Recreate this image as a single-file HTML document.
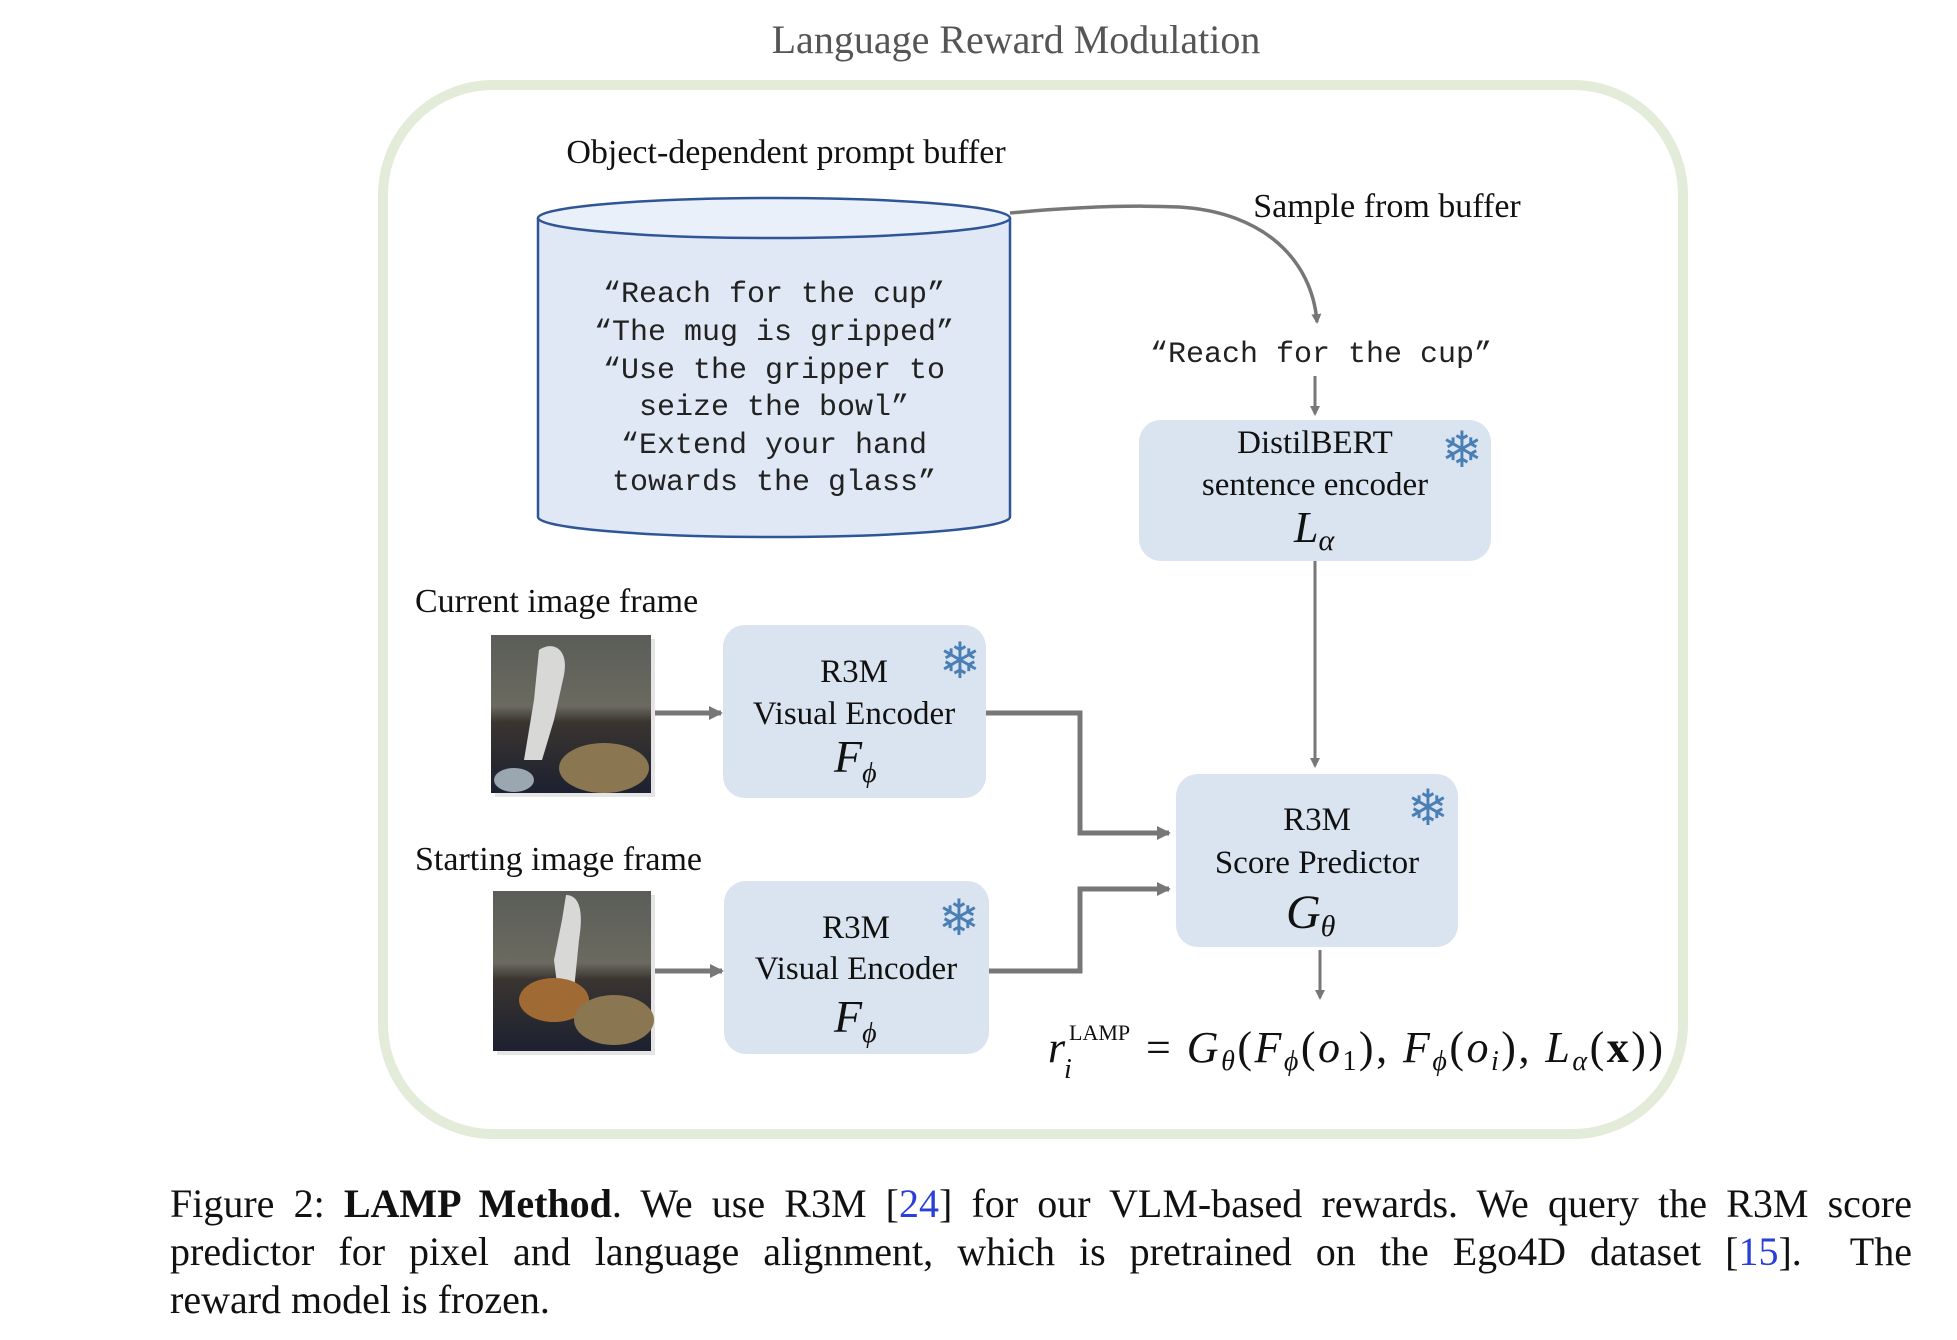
<!DOCTYPE html>
<html><head><meta charset="utf-8"><style>
html,body{margin:0;padding:0;background:#fff;}
#wrap{position:relative;width:1957px;height:1340px;overflow:hidden;}
svg{position:absolute;left:0;top:0;}
.cap{position:absolute;left:170px;width:1742px;font-family:"Liberation Serif",serif;font-size:40px;color:#111;white-space:nowrap;}
.j{text-align:justify;text-align-last:justify;white-space:normal;}
.ref{color:#2a3fd6;}
</style></head><body><div id="wrap">
<svg width="1957" height="1340" viewBox="0 0 1957 1340">
<defs>
<marker id="ah" markerWidth="10" markerHeight="10" refX="8" refY="5" orient="auto" markerUnits="userSpaceOnUse"><path d="M0,0 L10,5 L0,10 z" fill="#777"/></marker>
<marker id="ah2" markerWidth="14" markerHeight="14" refX="12" refY="7" orient="auto" markerUnits="userSpaceOnUse"><path d="M0,0 L14,7 L0,14 z" fill="#777"/></marker>
<linearGradient id="bg1" x1="0" y1="0" x2="0" y2="1"><stop offset="0" stop-color="#5a5d58"/><stop offset="0.45" stop-color="#6b6a60"/><stop offset="0.55" stop-color="#3a3530"/><stop offset="1" stop-color="#1c2030"/></linearGradient>
</defs>
<g transform="translate(-6,0)">
<text x="1022" y="53" text-anchor="middle" font-family="Liberation Serif,serif" font-size="40" fill="#555">Language Reward Modulation</text>
<rect x="389" y="85" width="1300" height="1049" rx="110" fill="#fff" stroke="#e2ecd9" stroke-width="10"/>
<text x="792" y="163" text-anchor="middle" font-family="Liberation Serif,serif" font-size="34" fill="#111">Object-dependent prompt buffer</text>
<path d="M544,218 L544,517 A236,20 0 0 0 1016,517 L1016,218" fill="#dfe8f4" stroke="#2f5597" stroke-width="2.5"/>
<ellipse cx="780" cy="218" rx="236" ry="20" fill="#e9f0f9" stroke="#2f5597" stroke-width="2.5"/>
<g font-family="Liberation Mono,monospace" font-size="30" fill="#222" text-anchor="middle">
<text x="780" y="302">“Reach for the cup”</text>
<text x="780" y="340">“The mug is gripped”</text>
<text x="780" y="378">“Use the gripper to</text>
<text x="780" y="415">seize the bowl”</text>
<text x="780" y="453">“Extend your hand</text>
<text x="780" y="490">towards the glass”</text>
<text x="1327" y="362">“Reach for the cup”</text>
</g>
<path d="M1016,213 C1080,207 1140,205 1185,207 C1270,212 1318,260 1323,322" fill="none" stroke="#777" stroke-width="3.5" marker-end="url(#ah)"/>
<text x="1393" y="217" text-anchor="middle" font-family="Liberation Serif,serif" font-size="34" fill="#111">Sample from buffer</text>
<line x1="1321" y1="376" x2="1321" y2="414" stroke="#777" stroke-width="3" marker-end="url(#ah)"/>
<rect x="1145" y="420" width="352" height="141" rx="22" fill="#dae3f0"/>
<g font-family="Liberation Serif,serif" font-size="33" fill="#111" text-anchor="middle">
<text x="1321" y="453">DistilBERT</text>
<text x="1321" y="495">sentence encoder</text>
</g>
<text x="1300" y="542" font-family="Liberation Serif,serif" font-size="44" font-style="italic" fill="#111">L<tspan font-size="30" dy="8">α</tspan></text>
<line x1="1321" y1="561" x2="1321" y2="766" stroke="#777" stroke-width="3" marker-end="url(#ah)"/>
<rect x="1182" y="774" width="282" height="173" rx="22" fill="#dae3f0"/>
<g font-family="Liberation Serif,serif" font-size="33" fill="#111" text-anchor="middle">
<text x="1323" y="830">R3M</text>
<text x="1323" y="873">Score Predictor</text>
</g>
<text x="1292" y="928" font-family="Liberation Serif,serif" font-size="48" font-style="italic" fill="#111">G<tspan font-size="30" dy="8">θ</tspan></text>
<line x1="1326" y1="950" x2="1326" y2="998" stroke="#777" stroke-width="3" marker-end="url(#ah)"/>
<text x="1054" y="1062" font-family="Liberation Serif,serif" font-size="44" font-style="italic" fill="#111">r</text>
<text x="1075" y="1040" font-family="Liberation Serif,serif" font-size="22" fill="#111">LAMP</text>
<text x="1070" y="1078" font-family="Liberation Serif,serif" font-size="28" font-style="italic" fill="#111">i</text>
<text x="1152" y="1062" textLength="517" lengthAdjust="spacing" font-family="Liberation Serif,serif" font-size="44" font-style="italic" fill="#111"><tspan font-style="normal">= </tspan>G<tspan font-size="28" dy="8">θ</tspan><tspan font-style="normal" dy="-8">(</tspan>F<tspan font-size="28" dy="8">ϕ</tspan><tspan font-style="normal" dy="-8">(</tspan>o<tspan font-size="28" font-style="normal" dy="8">1</tspan><tspan font-style="normal" dy="-8">), </tspan>F<tspan font-size="28" dy="8">ϕ</tspan><tspan font-style="normal" dy="-8">(</tspan>o<tspan font-size="28" dy="8">i</tspan><tspan font-style="normal" dy="-8">), </tspan>L<tspan font-size="28" dy="8">α</tspan><tspan font-style="normal" dy="-8">(</tspan><tspan font-style="normal" font-weight="bold">x</tspan><tspan font-style="normal">))</tspan></text>
<text x="421" y="612" font-family="Liberation Serif,serif" font-size="34" fill="#111">Current image frame</text>
<rect x="501" y="639" width="160" height="158" fill="#ccc" opacity="0.5"/>
<rect x="497" y="635" width="160" height="158" fill="url(#bg1)"/>
<path d="M545,650 C560,640 575,650 570,675 L560,720 L548,760 L530,760 L540,700 Z" fill="#d8d8d6"/>
<ellipse cx="610" cy="768" rx="45" ry="25" fill="#8a7650"/>
<ellipse cx="520" cy="780" rx="20" ry="12" fill="#9aa6b0"/>
<line x1="661" y1="713" x2="727" y2="713" stroke="#777" stroke-width="5" marker-end="url(#ah2)"/>
<rect x="729" y="625" width="263" height="173" rx="22" fill="#dae3f0"/>
<g font-family="Liberation Serif,serif" font-size="33" fill="#111" text-anchor="middle">
<text x="860" y="682">R3M</text>
<text x="860" y="724">Visual Encoder</text>
</g>
<text x="840" y="772" font-family="Liberation Serif,serif" font-size="46" font-style="italic" fill="#111">F<tspan font-size="28" dy="10">ϕ</tspan></text>
<polyline points="992,713 1086,713 1086,833 1175,833" fill="none" stroke="#777" stroke-width="5" marker-end="url(#ah2)"/>
<text x="421" y="870" font-family="Liberation Serif,serif" font-size="34" fill="#111">Starting image frame</text>
<rect x="503" y="895" width="158" height="160" fill="#ccc" opacity="0.5"/>
<rect x="499" y="891" width="158" height="160" fill="url(#bg1)"/>
<path d="M572,895 C585,895 590,910 585,940 L580,990 L565,1000 L560,960 L568,920 Z" fill="#d8d8d6"/>
<ellipse cx="560" cy="1000" rx="35" ry="22" fill="#a06a35"/>
<ellipse cx="620" cy="1020" rx="40" ry="25" fill="#8a7650"/>
<line x1="661" y1="971" x2="728" y2="971" stroke="#777" stroke-width="5" marker-end="url(#ah2)"/>
<rect x="730" y="881" width="265" height="173" rx="22" fill="#dae3f0"/>
<g font-family="Liberation Serif,serif" font-size="33" fill="#111" text-anchor="middle">
<text x="862" y="938">R3M</text>
<text x="862" y="979">Visual Encoder</text>
</g>
<text x="840" y="1032" font-family="Liberation Serif,serif" font-size="46" font-style="italic" fill="#111">F<tspan font-size="28" dy="10">ϕ</tspan></text>
<polyline points="995,971 1086,971 1086,889 1175,889" fill="none" stroke="#777" stroke-width="5" marker-end="url(#ah2)"/>
<g font-family="DejaVu Sans,sans-serif" font-size="50" fill="#4a7fb5" text-anchor="middle">
<text x="1468" y="467">❄</text>
<text x="1434" y="825">❄</text>
<text x="966" y="678">❄</text>
<text x="965" y="935">❄</text>
</g>
</g>
</svg>
<div class="cap j" style="top:1180px;">Figure 2: <b>LAMP Method</b>. We use R3M [<span class="ref">24</span>] for our VLM-based rewards. We query the R3M score</div>
<div class="cap j" style="top:1228px;">predictor for pixel and language alignment, which is pretrained on the Ego4D dataset [<span class="ref">15</span>]. &nbsp;The</div>
<div class="cap" style="top:1276px;">reward model is frozen.</div>
</div></body></html>
